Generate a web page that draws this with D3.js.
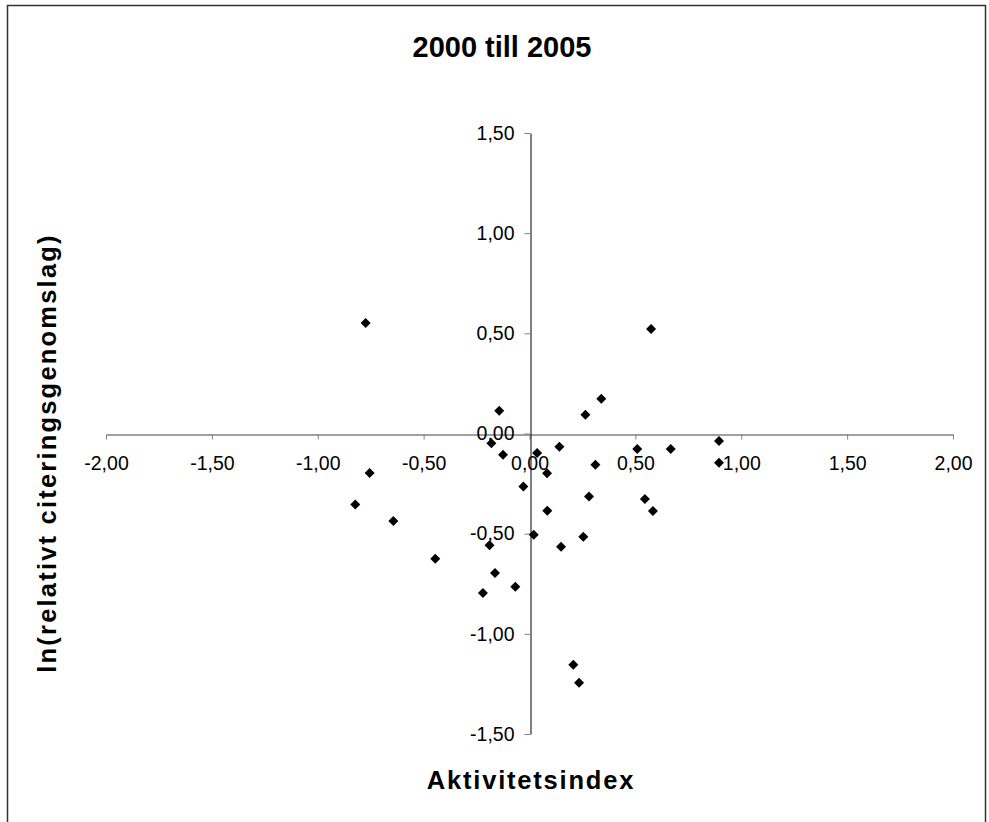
<!DOCTYPE html>
<html>
<head>
<meta charset="utf-8">
<script src="https://cdn.jsdelivr.net/npm/d3@7"></script>
<style>
  html, body { margin: 0; padding: 0; background: #fff; }
  svg { display: block; }
  text { font-family: "Liberation Sans", Arial, sans-serif; fill: #000; }
</style>
</head>
<body>
<svg id="chart" width="989" height="822"></svg>
<script>
// Aktivitetsindex (x) and ln(relativt citeringsgenomslag) (y), 2000–2005
const aktivitetsindex = [
  -0.774, -0.143, -0.180, -0.125, 0.036, -0.755, -0.823, -0.643, -0.445,
  -0.029, 0.020, -0.189, -0.163, -0.067, -0.220, 0.083, 0.574, 0.339,
  0.264, 0.141, 0.509, 0.667, 0.311, 0.084, 0.149, 0.254, 0.281,
  0.545, 0.583, 0.207, 0.234, 0.895, 0.895
];
const citeringsgenomslag = [
  0.552, 0.114, -0.049, -0.106, -0.097, -0.197, -0.355, -0.437, -0.625,
  -0.265, -0.505, -0.558, -0.696, -0.765, -0.796, -0.199, 0.522, 0.174,
  0.094, -0.066, -0.077, -0.077, -0.156, -0.385, -0.565, -0.515, -0.315,
  -0.327, -0.387, -1.154, -1.244, -0.037, -0.146
];
const xTicks = [-2, -1.5, -1, -0.5, 0, 0.5, 1, 1.5, 2];
const yTicks = [-1.5, -1, -0.5, 0, 0.5, 1, 1.5];

const titleText = "2000 till 2005";
const xTitle = "Aktivitetsindex";
const yTitle = "ln(relativt citeringsgenomslag)";

const svg = d3.select("#chart");

// Swedish number format: decimal comma, plain hyphen minus
const sv = d3.formatLocale({ decimal: ",", thousands: " ", grouping: [3], currency: ["", " kr"], minus: "-" });
const fmt = sv.format(".2f");

const x = d3.scaleLinear().domain([-2, 2]).range([106, 953]);
const y = d3.scaleLinear().domain([-1.5, 1.5]).range([734, 133]);

// chart frame
svg.append("rect")
  .attr("x", 7.5).attr("y", 5.5)
  .attr("width", 978).attr("height", 900)
  .attr("fill", "none").attr("stroke", "#333").attr("stroke-width", 1.5);

// title
svg.append("text")
  .attr("x", 502).attr("y", 57)
  .attr("text-anchor", "middle")
  .style("font-size", "29px").style("font-weight", "bold")
  .text(titleText);

// x axis crossing at y = 0
const xAxis = svg.append("g")
  .attr("transform", `translate(0,${Math.round(y(0)) + 0.5})`)
  .call(d3.axisBottom(x).tickValues(xTicks).tickFormat(fmt).tickSize(5).tickSizeOuter(0));
xAxis.select(".domain").attr("stroke", "#808080").attr("stroke-width", 1.5);
xAxis.selectAll(".tick line").attr("stroke", "#808080");
xAxis.selectAll(".tick text")
  .attr("y", 22).attr("dy", "0.71em")
  .style("font-size", "19.5px").style("font-family", "'Liberation Sans', Arial, sans-serif");

// y axis crossing at x = 0
const yAxis = svg.append("g")
  .attr("transform", `translate(${Math.round(x(0)) + 0.5},0)`)
  .call(d3.axisLeft(y).tickValues(yTicks).tickFormat(fmt).tickSize(6).tickSizeOuter(0));
yAxis.select(".domain").attr("stroke", "#000").attr("stroke-width", 1);
yAxis.selectAll(".tick line").attr("stroke", "#808080");
yAxis.selectAll(".tick text")
  .attr("x", -16)
  .style("font-size", "19.5px").style("font-family", "'Liberation Sans', Arial, sans-serif");

// axis titles
svg.append("text")
  .attr("x", 531).attr("y", 789)
  .attr("text-anchor", "middle")
  .style("font-size", "25.5px").style("font-weight", "bold").style("letter-spacing", "1.8px")
  .text(xTitle);

svg.append("text")
  .attr("transform", "translate(56,453) rotate(-90)")
  .attr("text-anchor", "middle")
  .style("font-size", "25.5px").style("font-weight", "bold").style("letter-spacing", "2.2px")
  .text(yTitle);

// data points as diamonds
const points = aktivitetsindex.map((v, i) => ({ x: v, y: citeringsgenomslag[i] }));
const diamond = d3.symbol().type(d3.symbolSquare).size(50);
svg.append("g")
  .selectAll("path")
  .data(points)
  .join("path")
  .attr("d", diamond)
  .attr("transform", d => `translate(${x(d.x)},${y(d.y)}) rotate(45)`)
  .attr("fill", "#000");
</script>
</body>
</html>
